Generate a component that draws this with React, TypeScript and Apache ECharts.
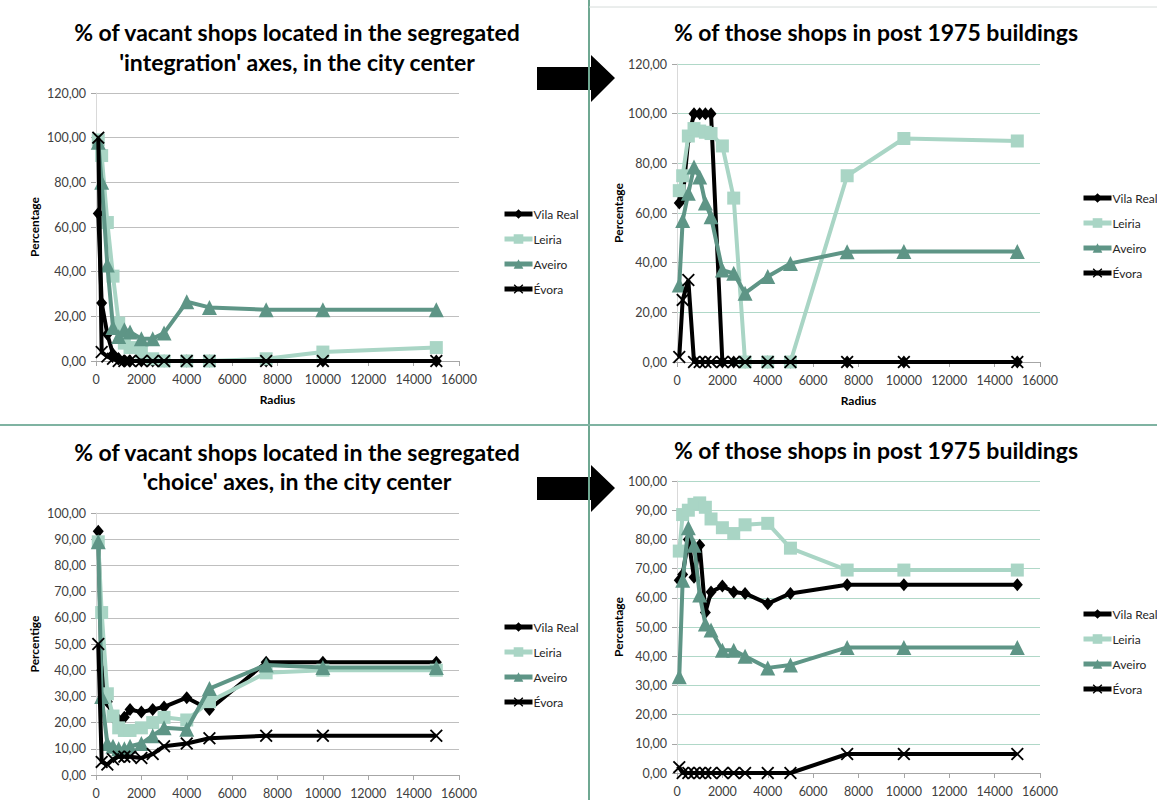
import React, { useEffect, useRef } from "react";
import * as echarts from "echarts";

const radii = [100, 250, 500, 750, 1000, 1250, 1500, 2000, 2500, 3000, 4000, 5000, 7500, 10000, 15000];
const cities = ["Vila Real", "Leiria", "Aveiro", "Évora"];

// Top-left: vacant shops, integration axes
const vilaRealInt = [66, 26, 12, 3, 1, 0, 0, 0, 0, 0, 0, 0, 0, 0, 0];
const leiriaInt = [99, 92, 62, 38, 17, 8, 6, 4, 1, 0, 0, 0, 1, 4, 6];
const aveiroInt = [98, 80, 43, 15, 11, 14, 13, 10, 10, 12.5, 26.5, 24, 23, 23, 23];
const evoraInt = [100, 4, 2, 1, 0, 0, 0, 0, 0, 0, 0, 0, 0, 0, 0];

// Top-right: post 1975 buildings, integration axes
const vilaRealIntPost = [64, 66, 90, 100, 100, 100, 100, 0, 0, 0, 0, 0, 0, 0, 0];
const leiriaIntPost = [69, 75, 91, 94, 93, 92.5, 92, 87, 66, 0, 0, 0, 75, 90, 89];
const aveiroIntPost = [31, 57, 68, 78.5, 74.5, 64, 58.5, 37, 35.7, 27.7, 34.4, 39.7, 44.4, 44.5, 44.5];
const evoraIntPost = [2, 25, 33, 0, 0, 0, 0, 0, 0, 0, 0, 0, 0, 0, 0];

// Bottom-left: vacant shops, choice axes
const vilaRealCho = [93, 40, 28, 22, 21, 22, 25, 24, 25, 26, 29.5, 25, 43, 43, 43];
const leiriaCho = [89, 62, 31, 22.5, 18, 17, 17, 18, 20, 22, 21, 28, 39, 40, 40];
const aveiroCho = [89, 30, 12, 11, 10, 10, 11, 12, 15, 18, 17.5, 33, 42, 41, 41];
const evoraCho = [50, 5, 4, 6, 7, 7, 7, 6.5, 8, 11, 12, 14, 15, 15, 15];

// Bottom-right: post 1975 buildings, choice axes
const vilaRealChoPost = [66, 68, 80, 67, 78, 55, 62, 64, 62, 61.5, 58, 61.5, 64.5, 64.5, 64.5];
const leiriaChoPost = [76, 88.5, 90, 92, 92.5, 91, 87, 84, 82, 85, 85.5, 77, 69.5, 69.5, 69.5];
const aveiroChoPost = [33, 66, 84, 78, 61, 51, 49, 42, 42, 40, 36, 37, 43, 43, 43];
const evoraChoPost = [2, 0, 0, 0, 0, 0, 0, 0, 0, 0, 0, 0, 6.5, 6.5, 6.5];

const panelData = [
  [vilaRealInt, leiriaInt, aveiroInt, evoraInt],
  [vilaRealIntPost, leiriaIntPost, aveiroIntPost, evoraIntPost],
  [vilaRealCho, leiriaCho, aveiroCho, evoraCho],
  [vilaRealChoPost, leiriaChoPost, aveiroChoPost, evoraChoPost],
];

const titles = [
  ["% of vacant shops located in the segregated", "'integration' axes, in the city center"],
  ["% of those shops in post 1975 buildings"],
  ["% of vacant shops located in the segregated", "'choice' axes, in the city center"],
  ["% of those shops in post 1975 buildings"],
];
const yNames = ["Percentage", "Percentage", "Percentige", "Percentage"];
const yMaxes = [120, 120, 100, 100];
const yIntervals = [20, 20, 10, 10];

const FONT = "Lato, 'Noto Sans', sans-serif";
const cityColors = ["#000000", "#a9d5c5", "#5e9586", "#000000"];
const X_PATH = "path://M1,0 L5,4 L9,0 L10,1 L6,5 L10,9 L9,10 L5,6 L1,10 L0,9 L4,5 L0,1 Z";
const citySymbols = ["diamond", "rect", "triangle", X_PATH];
const citySymbolSizes: any[] = [[11, 13], 13, 15, 13];

export default function App() {
  const ref = useRef<HTMLDivElement>(null);
  useEffect(() => {
    document.body.style.margin = "0";
    if (!ref.current) return;
    const chart = echarts.init(ref.current, undefined, { renderer: "svg" });

    const grids = [
      { left: 96, top: 93, width: 363, height: 268 },
      { left: 677, top: 64, width: 363, height: 298 },
      { left: 96, top: 513, width: 363, height: 263 },
      { left: 677, top: 481, width: 363, height: 292 },
    ];
    const gridColors = ["#bfbfbf", "#b0d8c8", "#bfbfbf", "#b0d8c8"];
    const legendPos = [
      { left: 497, top: 203 },
      { left: 1076, top: 187 },
      { left: 497, top: 616 },
      { left: 1076, top: 603 },
    ];
    const yNameGap = [56, 53, 56, 53];

    const xAxis = grids.map((_, i) => ({
      type: "value",
      gridIndex: i,
      min: 0,
      max: 16000,
      interval: 2000,
      name: i < 2 ? "Radius" : "",
      nameLocation: "middle",
      nameGap: 32,
      nameTextStyle: { fontFamily: FONT, fontWeight: "bold", fontSize: 12, color: "#000" },
      axisLine: { show: true, lineStyle: { color: "#a6a6a6", width: 1 } },
      axisTick: { show: true, length: 5, lineStyle: { color: "#a6a6a6" } },
      axisLabel: {
        fontFamily: FONT,
        fontSize: 12.5,
        color: "#404040",
        margin: 12,
        formatter: (v: number) => String(v),
      },
      splitLine: { show: false },
    }));

    const yAxis = grids.map((_, i) => ({
      type: "value",
      gridIndex: i,
      min: 0,
      max: yMaxes[i],
      interval: yIntervals[i],
      name: yNames[i],
      nameLocation: "middle",
      nameGap: yNameGap[i],
      nameTextStyle: { fontFamily: FONT, fontWeight: "bold", fontSize: 12, color: "#000" },
      axisLine: { show: true, lineStyle: { color: "#d9d9d9", width: 1 } },
      axisTick: { show: true, length: 5, lineStyle: { color: "#a6a6a6" } },
      axisLabel: {
        fontFamily: FONT,
        fontSize: 12.5,
        color: "#404040",
        margin: 10,
        formatter: (v: number) => v.toFixed(2).replace(".", ","),
      },
      splitLine: { show: true, lineStyle: { color: gridColors[i], width: 1.2 } },
    }));

    const series: any[] = [];
    panelData.forEach((panel, p) => {
      panel.forEach((vals, c) => {
        series.push({
          type: "line",
          name: cities[c],
          xAxisIndex: p,
          yAxisIndex: p,
          data: radii.map((x, k) => [x, vals[k]]),
          symbol: citySymbols[c],
          symbolSize: citySymbolSizes[c],
          showSymbol: true,
          lineStyle: { color: cityColors[c], width: 4 },
          itemStyle: { color: cityColors[c] },
          emphasis: { disabled: true },
          z: 2 + c,
        });
      });
    });

    const legend = legendPos.map((pos) => ({
      orient: "vertical",
      left: pos.left,
      top: pos.top,
      itemWidth: 28,
      itemHeight: 12,
      itemGap: 13,
      data: cities,
      selectedMode: false,
      lineStyle: { width: 5 },
      textStyle: { fontFamily: FONT, fontSize: 12, color: "#262626", lineHeight: 12, padding: [0, 0, 0, -4] },
    }));

    const titleCenters = [
      { x: 297, y: [32, 62] },
      { x: 876, y: [32] },
      { x: 297, y: [452, 481] },
      { x: 876, y: [450] },
    ];
    const titleTexts: any[] = [];
    titles.forEach((lines, i) => {
      lines.forEach((line, j) => {
        titleTexts.push({
          type: "text",
          x: titleCenters[i].x,
          y: titleCenters[i].y[j],
          style: {
            text: line,
            fill: "#000",
            font: `bold 23px ${FONT}`,
            textAlign: "center",
            textVerticalAlign: "middle",
          },
          z: 10,
        });
      });
    });

    const arrow = (y0: number) => ({
      type: "polygon",
      shape: {
        points: [
          [537, y0 + 11],
          [591, y0 + 11],
          [591, y0 - 1],
          [615, y0 + 22],
          [591, y0 + 46],
          [591, y0 + 34],
          [537, y0 + 34],
        ],
      },
      style: { fill: "#000" },
      z: 10,
    });

    const graphic = [
      ...titleTexts,
      arrow(56),
      arrow(466),
      {
        type: "line",
        shape: { x1: 589, y1: 0, x2: 589, y2: 800 },
        style: { stroke: "#6fa892", lineWidth: 2 },
        z: 20,
      },
      {
        type: "line",
        shape: { x1: 0, y1: 425, x2: 1157, y2: 425 },
        style: { stroke: "#7fb3a2", lineWidth: 2 },
        z: 20,
      },
      {
        type: "line",
        shape: { x1: 589, y1: 7, x2: 1157, y2: 7 },
        style: { stroke: "#d6dcda", lineWidth: 1 },
        z: 20,
      },
    ];

    chart.setOption({
      animation: false,
      backgroundColor: "#ffffff",
      grid: grids,
      xAxis,
      yAxis,
      legend,
      series,
      graphic,
    });
    return () => chart.dispose();
  }, []);
  return <div ref={ref} style={{ width: 1157, height: 800 }} />;
}
